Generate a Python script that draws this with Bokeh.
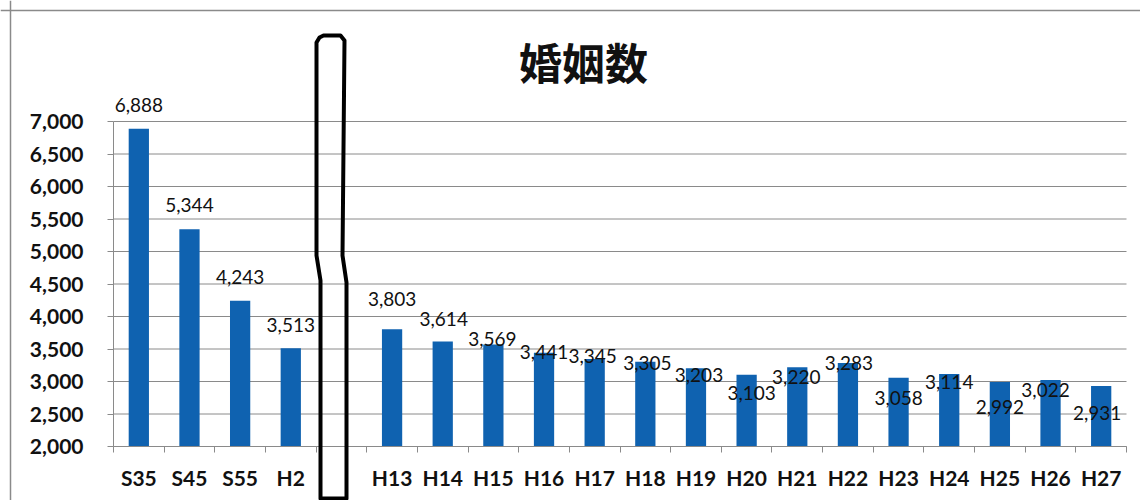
from bokeh.plotting import figure
from bokeh.models import (ColumnDataSource, FixedTicker, NumeralTickFormatter, LabelSet,
                          Label, PolyAnnotation, Range1d, Span)
from bokeh.core.properties import value
from bokeh.embed import file_html
from bokeh.resources import INLINE

# ---- data ----
categories = ["S35", "S45", "S55", "H2",
              "H13", "H14", "H15", "H16", "H17", "H18", "H19", "H20",
              "H21", "H22", "H23", "H24", "H25", "H26", "H27"]
marriages = [6888, 5344, 4243, 3513,
             3803, 3614, 3569, 3441, 3345, 3305, 3203, 3103,
             3220, 3283, 3058, 3114, 2992, 3022, 2931]
y_ticks = [2000, 2500, 3000, 3500, 4000, 4500, 5000, 5500, 6000, 6500, 7000]
title_text = "婚姻数"

# ---- label placement (style: pixel offsets of each value label from its bar top) ----
label_dx = [0, 0, 0, 0, 0, 1, -1, 0, -2, 2, 3, 5, -1, 1, 0, 0, 0, -5, -4]
label_dy = [24, 24, 24, 23, 30, 23, 6, 1, 3, -1, -7, -18, -10, 0, -20, -8, -25, -10, -27]

GAP = 4  # empty slot (break) after H2
slots = [i if i < GAP else i + 1 for i in range(len(categories))]
n_slots = len(categories) + 1
xs = [s + 0.5 for s in slots]

src = ColumnDataSource(dict(x=xs, top=marriages, cat=categories,
                            txt=[f"{v:,}" for v in marriages],
                            dx=label_dx, dy=label_dy))

W, H = 1140, 500
# frame fills the whole canvas; axes are pinned inside it
PX_X = 50.65          # px per slot
PX_Y = 0.065          # px per unit
LEFT, TOP = 113, 121  # pixel position of the category-axis origin / top tick
x0 = -LEFT / PX_X
x1 = x0 + W / PX_X
y1 = y_ticks[-1] + TOP / PX_Y
y0 = y1 - H / PX_Y

def px_to_x(px):
    return x0 + px / PX_X

def py_to_y(py):
    return y1 - py / PX_Y

p = figure(width=W, height=H, output_backend="svg", toolbar_location=None,
           x_range=Range1d(x0, x1), y_range=Range1d(y0, y1),
           min_border=0)
p.outline_line_color = None
p.background_fill_color = "white"
p.border_fill_color = "white"
p.xgrid.visible = False
p.ygrid.visible = False

GRAY = "#8a8a8a"
# chart-area border (top and left)
p.add_layout(Span(location=py_to_y(10), dimension="width", line_color=GRAY, line_width=1.5))
p.add_layout(Span(location=px_to_x(10), dimension="height", line_color=GRAY, line_width=1.5))

# horizontal gridlines across the category area
p.segment(x0=[0] * len(y_ticks), x1=[n_slots] * len(y_ticks), y0=y_ticks, y1=y_ticks,
          line_color=GRAY, line_width=1)

p.vbar(x="x", top="top", bottom=y_ticks[0], width=0.4, source=src,
       fill_color="#0f62b0", line_color=None)

# axes
p.yaxis.fixed_location = 0
p.yaxis.bounds = (y_ticks[0], y_ticks[-1])
p.yaxis.ticker = FixedTicker(ticks=y_ticks)
p.yaxis.formatter = NumeralTickFormatter(format="0,0")
p.yaxis.axis_line_color = GRAY
p.yaxis.major_tick_line_color = GRAY
p.yaxis.major_tick_out = 6
p.yaxis.major_tick_in = 0
p.yaxis.minor_tick_line_color = None
p.yaxis.major_label_standoff = 24
p.yaxis.major_label_text_font = "Lato"
p.yaxis.major_label_text_font_style = "bold"
p.yaxis.major_label_text_font_size = "21px"
p.yaxis.major_label_text_color = "#111111"

p.xaxis.fixed_location = y_ticks[0]
p.xaxis.bounds = (0, n_slots)
p.xaxis.ticker = FixedTicker(ticks=xs, minor_ticks=list(range(n_slots + 1)))
p.xaxis.major_label_overrides = {x: c for x, c in zip(xs, categories)}
p.xaxis.axis_line_color = GRAY
p.xaxis.major_tick_line_color = None
p.xaxis.minor_tick_line_color = GRAY
p.xaxis.minor_tick_out = 6
p.xaxis.minor_tick_in = 0
p.xaxis.major_label_standoff = 12
p.xaxis.major_label_text_font = "Lato"
p.xaxis.major_label_text_font_style = "bold"
p.xaxis.major_label_text_font_size = "21px"
p.xaxis.major_label_text_color = "#111111"

labels = LabelSet(x="x", y="top", text="txt", x_offset="dx", y_offset="dy", source=src,
                  text_align="center", text_baseline="middle",
                  text_font=value("Lato"), text_font_size=value("19px"), text_color="#111111")
p.add_layout(labels)

# title
p.add_layout(Label(x=px_to_x(583), y=py_to_y(60), text=title_text,
                   text_align="center", text_baseline="middle",
                   text_font="Noto Sans CJK JP", text_font_style="bold", text_font_size="43px",
                   text_color="#111111"))

# axis-break marker around the empty slot (pixel outline, converted to data units)
brk_px = [320, 320, 316, 316, 319, 323, 340, 344, 342, 346, 346]
brk_py = [498, 280, 255, 42, 37, 35, 35, 40, 255, 282, 498]
p.add_layout(PolyAnnotation(xs=[px_to_x(v) for v in brk_px], ys=[py_to_y(v) for v in brk_py],
                            fill_color=None, fill_alpha=0, line_color="black",
                            line_alpha=1, line_width=4, line_join="round"))

open("out.html", "w").write(file_html(p, INLINE))
